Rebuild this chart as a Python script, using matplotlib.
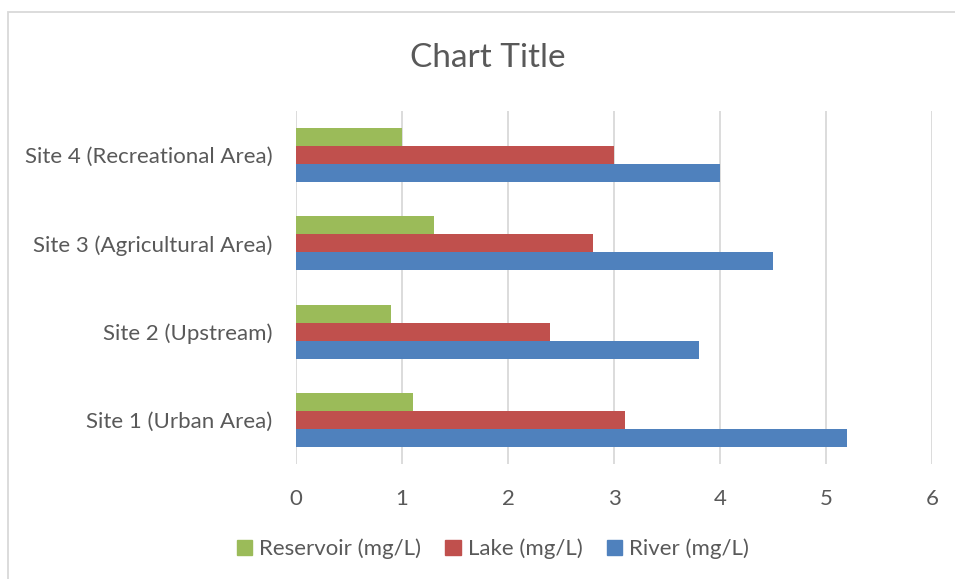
import matplotlib
matplotlib.use("Agg")
import matplotlib.pyplot as plt
from matplotlib.patches import Rectangle, Patch
import numpy as np

# nitrate readings per site (mg/L)
sites = ["Site 1 (Urban Area)", "Site 2 (Upstream)",
         "Site 3 (Agricultural Area)", "Site 4 (Recreational Area)"]
river = [5.2, 3.8, 4.5, 4.0]
lake = [3.1, 2.4, 2.8, 3.0]
reservoir = [1.1, 0.9, 1.3, 1.0]

text_col = "#595959"
plt.rcParams["font.family"] = ["Lato", "DejaVu Sans"]

fig = plt.figure(figsize=(9.55, 5.79), dpi=100)
ax = fig.add_axes([0.31, 0.1986, 0.666, 0.6097])

# chart frame (only left and top edges visible)
fig.patches.append(Rectangle((8 / 955, -0.1), 1.2, 1 - 12 / 579 + 0.1,
                             transform=fig.transFigure, fill=False,
                             edgecolor="#D9D9D9", linewidth=1.3))

y = np.arange(len(sites))
h = 0.204
ax.barh(y - h, river, height=h, color="#4F81BD", label="River (mg/L)")
ax.barh(y, lake, height=h, color="#C0504D", label="Lake (mg/L)")
ax.barh(y + h, reservoir, height=h, color="#9BBB59", label="Reservoir (mg/L)")

ax.set_xlim(0, 6)
ax.set_ylim(-0.5, 3.5)
ax.set_xticks(range(7))
ax.set_yticks(y)
ax.set_yticklabels(sites)
ax.xaxis.grid(True, color="#D9D9D9", linewidth=1.3)
ax.set_axisbelow(True)
for s in ax.spines.values():
    s.set_visible(False)
ax.tick_params(axis="both", length=0, colors=text_col, labelsize=16)
ax.tick_params(axis="x", pad=18)
ax.tick_params(axis="y", pad=17)

fig.text(0.511, 0.90, "Chart Title", ha="center", va="center",
         fontsize=24, color=text_col)

handles = [Patch(color="#9BBB59"), Patch(color="#C0504D"), Patch(color="#4F81BD")]
labels = ["Reservoir (mg/L)", "Lake (mg/L)", "River (mg/L)"]
fig.legend(handles, labels, loc="center", bbox_to_anchor=(0.516, 0.052),
           ncol=3, frameon=False, fontsize=16, labelcolor=text_col,
           handlelength=0.7, handleheight=0.7, handletextpad=0.3,
           columnspacing=1.1)

fig.savefig("out.png", dpi=100)
